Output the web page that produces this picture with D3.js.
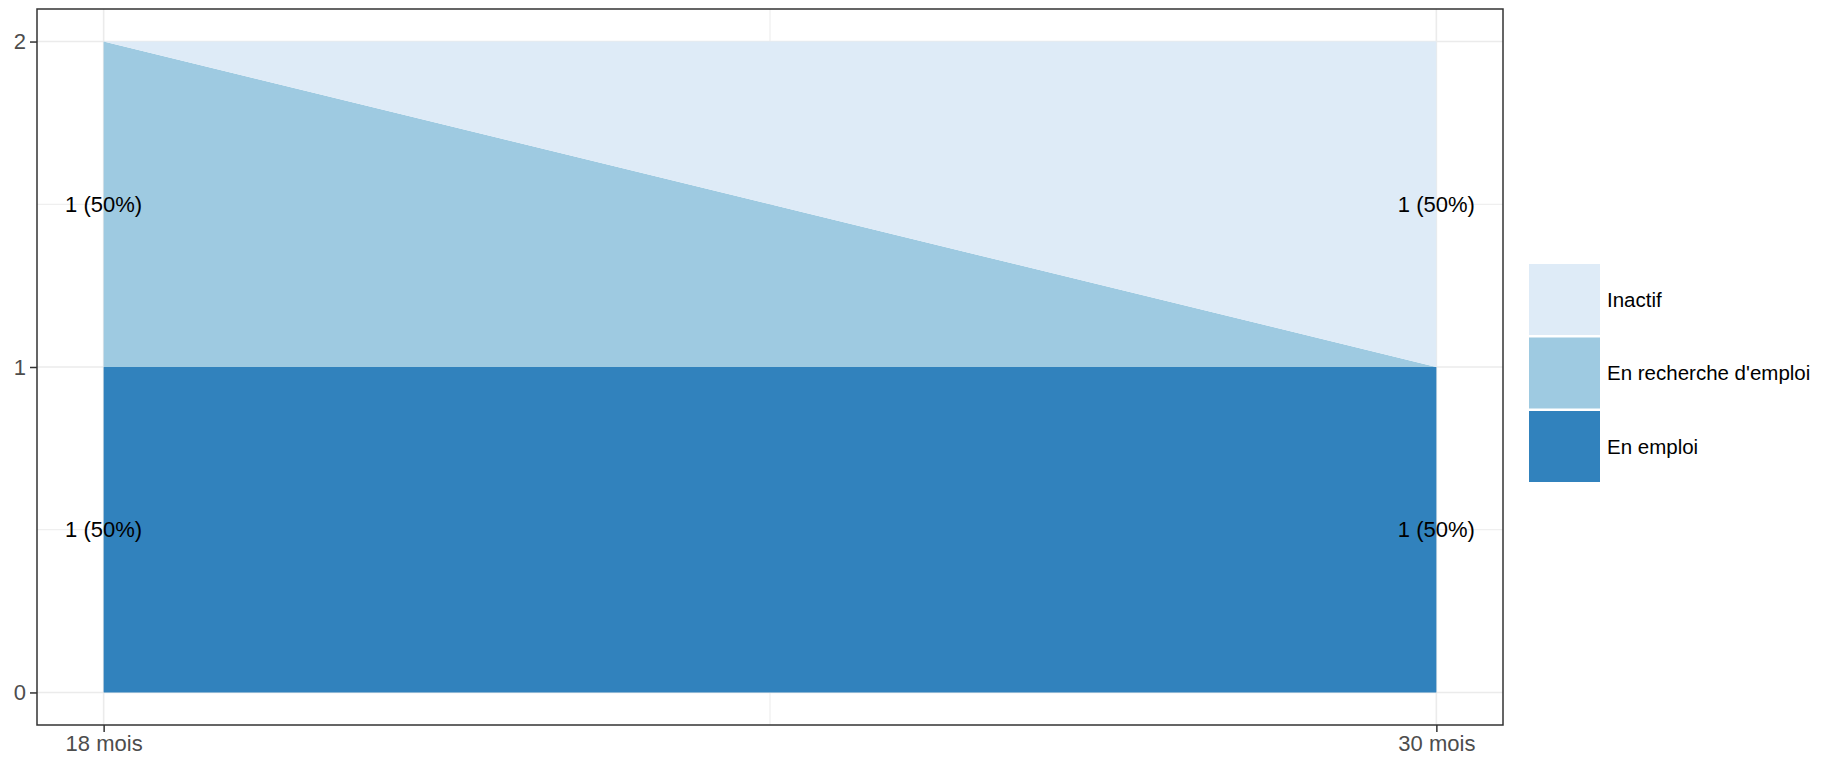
<!DOCTYPE html>
<html>
<head>
<meta charset="utf-8">
<script src="https://cdn.jsdelivr.net/npm/d3@7"></script>
<style>
  body { margin: 0; background: #fff; }
  svg text { font-family: "Liberation Sans", Arial, sans-serif; }
</style>
</head>
<body>
<div id="chart"></div>
<script>
// data
var periods = [18, 30];
var periodLabels = ["18 mois", "30 mois"];
var categories = ["En emploi", "En recherche d'emploi", "Inactif"];
var enEmploi = [1, 1];
var enRecherche = [1, 0];
var inactif = [0, 1];
var colors = ["#3182bd", "#9ecae1", "#deebf7"];
var yTicks = [0, 1, 2];

var margin = {top: 9, right: 1827 - 1503, bottom: 759 - 725, left: 37};
var width = 1827 - margin.left - margin.right;
var height = 759 - margin.top - margin.bottom;

var rows = periods.map(function(p, i) {
  return {period: p, "En emploi": enEmploi[i], "En recherche d'emploi": enRecherche[i], "Inactif": inactif[i]};
});
var series = d3.stack().keys(categories)(rows);

var x = d3.scaleLinear()
  .domain([18 - 0.6, 30 + 0.6])
  .range([0, width]);
var y = d3.scaleLinear()
  .domain([-0.1, 2.1])
  .range([height, 0]);

var svg = d3.select("#chart").append("svg")
  .attr("width", 1827)
  .attr("height", 759)
  .append("g")
  .attr("transform", "translate(" + margin.left + "," + margin.top + ")");

// grid (minor + major)
var grid = svg.append("g");
[0.5, 1.5].concat(yTicks).forEach(function(v) {
  grid.append("line")
    .attr("x1", 0).attr("x2", width)
    .attr("y1", y(v)).attr("y2", y(v))
    .attr("stroke", "#ebebeb")
    .attr("stroke-width", yTicks.indexOf(v) >= 0 ? 1.6 : 1);
});
[24].concat(periods).forEach(function(v) {
  grid.append("line")
    .attr("y1", 0).attr("y2", height)
    .attr("x1", x(v)).attr("x2", x(v))
    .attr("stroke", "#ebebeb")
    .attr("stroke-width", periods.indexOf(v) >= 0 ? 1.6 : 1);
});

// areas
var area = d3.area()
  .x(function(d) { return x(d.data.period); })
  .y0(function(d) { return y(d[0]); })
  .y1(function(d) { return y(d[1]); });

svg.selectAll(".area")
  .data(series)
  .enter().append("path")
  .attr("class", "area")
  .attr("d", area)
  .attr("fill", function(d, i) { return colors[i]; });

// labels
var total = periods.map(function(p, i) { return enEmploi[i] + enRecherche[i] + inactif[i]; });
series.forEach(function(s) {
  s.forEach(function(d, i) {
    var v = d[1] - d[0];
    if (v <= 0) return;
    svg.append("text")
      .attr("x", x(d.data.period))
      .attr("y", y((d[0] + d[1]) / 2))
      .attr("dy", "0.35em")
      .attr("text-anchor", "middle")
      .style("font-size", "22px")
      .style("fill", "#000")
      .text(v + " (" + Math.round(v / total[i] * 100) + "%)");
  });
});

// panel border
svg.append("rect")
  .attr("width", width)
  .attr("height", height)
  .attr("fill", "none")
  .attr("stroke", "#333")
  .attr("stroke-width", 1.5);

// axes
var yAxis = svg.append("g")
  .call(d3.axisLeft(y).tickValues(yTicks).tickSize(7).tickPadding(4).tickFormat(d3.format("d")));
var xAxis = svg.append("g")
  .attr("transform", "translate(0," + height + ")")
  .call(d3.axisBottom(x).tickValues(periods).tickSize(7).tickPadding(3)
    .tickFormat(function(d, i) { return periodLabels[i]; }));
[xAxis, yAxis].forEach(function(a) {
  a.select(".domain").remove();
  a.selectAll(".tick line").attr("stroke", "#333").attr("stroke-width", 1.5);
  a.selectAll(".tick text")
    .style("font-size", "22px")
    .style("font-family", "'Liberation Sans', Arial, sans-serif")
    .style("fill", "#4d4d4d");
});

// legend
var keySize = 71, keyGap = 2.5;
var legend = svg.append("g")
  .attr("transform", "translate(" + (1529 - margin.left) + "," + (264 - margin.top) + ")");
var legendOrder = categories.slice().reverse();
legendOrder.forEach(function(c, i) {
  var g = legend.append("g").attr("transform", "translate(0," + i * (keySize + keyGap) + ")");
  g.append("rect")
    .attr("width", keySize)
    .attr("height", keySize)
    .attr("fill", colors[categories.indexOf(c)]);
  g.append("text")
    .attr("x", keySize + 7)
    .attr("y", keySize / 2)
    .attr("dy", "0.35em")
    .style("font-size", "20.5px")
    .style("fill", "#000")
    .text(c);
});
</script>
</body>
</html>
